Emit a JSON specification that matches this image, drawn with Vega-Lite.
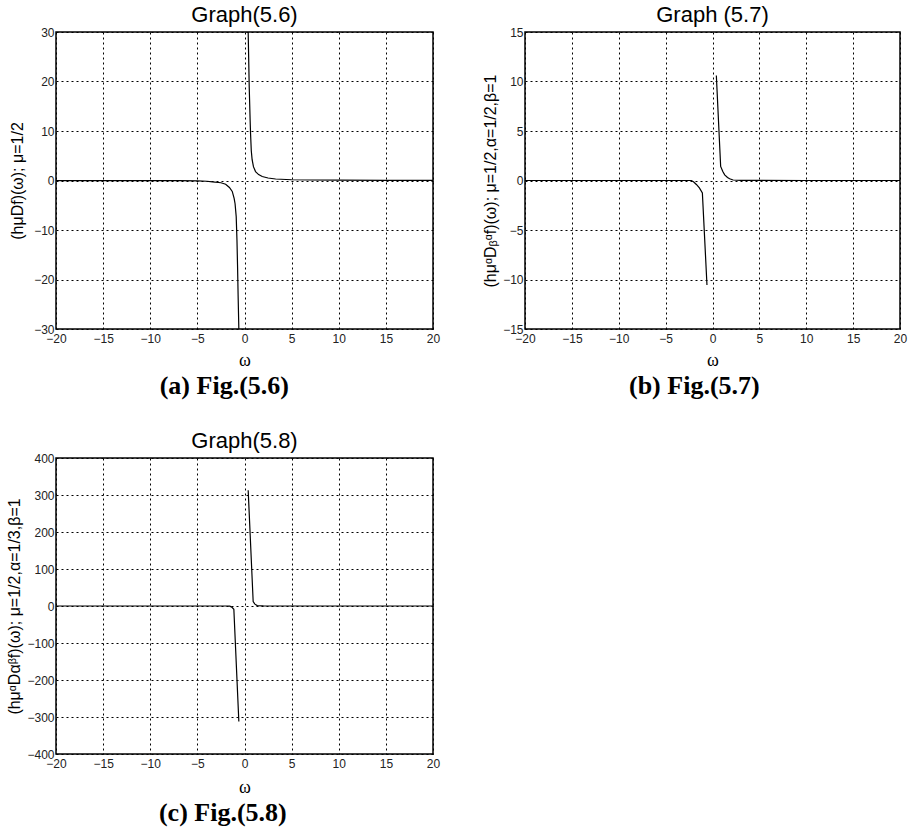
{
  "$schema": "https://vega.github.io/schema/vega-lite/v6.json",
  "background": "white",
  "padding": {"left": 5, "top": 3, "right": 5, "bottom": 5},
  "config": {
    "font": "Liberation Sans",
    "view": {"stroke": "black", "strokeWidth": 1.5},
    "axis": {
      "domain": false,
      "ticks": false,
      "grid": true,
      "gridColor": "black",
      "gridDash": [2, 3],
      "gridWidth": 1,
      "gridOpacity": 1,
      "labelFont": "Liberation Sans",
      "labelFontSize": 12,
      "labelColor": "#222",
      "labelFlush": false,
      "labelOverlap": false,
      "labelPadding": 2,
      "titleFont": "Liberation Sans",
      "titleFontSize": 16,
      "titleFontWeight": "normal",
      "titleColor": "black"
    },
    "axisX": {"labelPadding": 4, "titleFont": "Liberation Serif", "titleFontSize": 18, "titlePadding": 7},
    "title": {"font": "Liberation Sans", "fontSize": 22, "fontWeight": "normal", "color": "black", "offset": -1}
  },
  "datasets": {
    "curves": [
      {"panel": "a", "branch": "neg", "w": -20, "v": -0.005},
      {"panel": "a", "branch": "neg", "w": -15, "v": -0.01},
      {"panel": "a", "branch": "neg", "w": -10, "v": -0.02},
      {"panel": "a", "branch": "neg", "w": -7, "v": -0.04},
      {"panel": "a", "branch": "neg", "w": -5, "v": -0.07},
      {"panel": "a", "branch": "neg", "w": -4, "v": -0.15},
      {"panel": "a", "branch": "neg", "w": -3.4, "v": -0.27},
      {"panel": "a", "branch": "neg", "w": -2.5, "v": -0.45},
      {"panel": "a", "branch": "neg", "w": -2, "v": -0.75},
      {"panel": "a", "branch": "neg", "w": -1.6, "v": -1.4},
      {"panel": "a", "branch": "neg", "w": -1.3, "v": -2.2},
      {"panel": "a", "branch": "neg", "w": -1.1, "v": -3.6},
      {"panel": "a", "branch": "neg", "w": -1.0, "v": -4.7},
      {"panel": "a", "branch": "neg", "w": -0.88, "v": -7.3},
      {"panel": "a", "branch": "neg", "w": -0.8, "v": -12},
      {"panel": "a", "branch": "neg", "w": -0.74, "v": -17},
      {"panel": "a", "branch": "neg", "w": -0.68, "v": -23},
      {"panel": "a", "branch": "neg", "w": -0.6, "v": -30},
      {"panel": "a", "branch": "pos", "w": 0.39, "v": 30},
      {"panel": "a", "branch": "pos", "w": 0.5, "v": 19},
      {"panel": "a", "branch": "pos", "w": 0.6, "v": 12},
      {"panel": "a", "branch": "pos", "w": 0.64, "v": 9.6},
      {"panel": "a", "branch": "pos", "w": 0.72, "v": 6},
      {"panel": "a", "branch": "pos", "w": 0.81, "v": 4.2},
      {"panel": "a", "branch": "pos", "w": 0.95, "v": 2.8},
      {"panel": "a", "branch": "pos", "w": 1.17, "v": 1.8},
      {"panel": "a", "branch": "pos", "w": 1.5, "v": 1.2},
      {"panel": "a", "branch": "pos", "w": 1.88, "v": 0.8},
      {"panel": "a", "branch": "pos", "w": 2.5, "v": 0.5},
      {"panel": "a", "branch": "pos", "w": 3.3, "v": 0.3},
      {"panel": "a", "branch": "pos", "w": 5, "v": 0.15},
      {"panel": "a", "branch": "pos", "w": 7, "v": 0.1},
      {"panel": "a", "branch": "pos", "w": 10, "v": 0.06},
      {"panel": "a", "branch": "pos", "w": 15, "v": 0.03},
      {"panel": "a", "branch": "pos", "w": 20, "v": 0.02},
      {"panel": "b", "branch": "neg", "w": -20, "v": 0},
      {"panel": "b", "branch": "neg", "w": -10, "v": 0},
      {"panel": "b", "branch": "neg", "w": -5, "v": 0},
      {"panel": "b", "branch": "neg", "w": -2.25, "v": 0},
      {"panel": "b", "branch": "neg", "w": -2.0, "v": -0.15},
      {"panel": "b", "branch": "neg", "w": -1.72, "v": -0.4},
      {"panel": "b", "branch": "neg", "w": -1.4, "v": -0.75},
      {"panel": "b", "branch": "neg", "w": -1.08, "v": -1.25},
      {"panel": "b", "branch": "neg", "w": -0.59, "v": -10.55},
      {"panel": "b", "branch": "pos", "w": 0.41, "v": 10.6},
      {"panel": "b", "branch": "pos", "w": 0.87, "v": 1.42},
      {"panel": "b", "branch": "pos", "w": 1.1, "v": 0.9},
      {"panel": "b", "branch": "pos", "w": 1.3, "v": 0.57},
      {"panel": "b", "branch": "pos", "w": 1.6, "v": 0.3},
      {"panel": "b", "branch": "pos", "w": 1.83, "v": 0.17},
      {"panel": "b", "branch": "pos", "w": 2.2, "v": 0.05},
      {"panel": "b", "branch": "pos", "w": 3, "v": 0.02},
      {"panel": "b", "branch": "pos", "w": 5, "v": 0.01},
      {"panel": "b", "branch": "pos", "w": 10, "v": 0},
      {"panel": "b", "branch": "pos", "w": 20, "v": 0},
      {"panel": "c", "branch": "neg", "w": -20, "v": 0},
      {"panel": "c", "branch": "neg", "w": -10, "v": 0},
      {"panel": "c", "branch": "neg", "w": -5, "v": 0},
      {"panel": "c", "branch": "neg", "w": -2, "v": 0},
      {"panel": "c", "branch": "neg", "w": -1.56, "v": -0.5},
      {"panel": "c", "branch": "neg", "w": -1.35, "v": -3},
      {"panel": "c", "branch": "neg", "w": -1.13, "v": -9},
      {"panel": "c", "branch": "neg", "w": -0.6, "v": -312},
      {"panel": "c", "branch": "pos", "w": 0.39, "v": 313},
      {"panel": "c", "branch": "pos", "w": 0.92, "v": 11.7},
      {"panel": "c", "branch": "pos", "w": 1.1, "v": 5},
      {"panel": "c", "branch": "pos", "w": 1.35, "v": 1},
      {"panel": "c", "branch": "pos", "w": 2, "v": 0.2},
      {"panel": "c", "branch": "pos", "w": 5, "v": 0.05},
      {"panel": "c", "branch": "pos", "w": 20, "v": 0}
    ]
  },
  "spacing": 30,
  "vconcat": [
    {
      "spacing": 40,
      "hconcat": [
        {
          "title": {"text": "(a) Fig.(5.6)", "orient": "bottom", "anchor": "middle", "font": "Liberation Serif", "fontSize": 26, "fontWeight": "bold", "offset": 3},
          "vconcat": [
            {
              "width": 377,
              "height": 297,
              "title": {"text": "Graph(5.6)"},
              "data": {"name": "curves"},
              "transform": [{"filter": "datum.panel == 'a'"}],
              "mark": {"type": "line", "color": "black", "strokeWidth": 1.2, "clip": true},
              "encoding": {
                "x": {"field": "w", "type": "quantitative", "scale": {"domain": [-20, 20], "nice": false},
                      "axis": {"values": [-20, -15, -10, -5, 0, 5, 10, 15, 20], "title": "ω"}},
                "y": {"field": "v", "type": "quantitative", "scale": {"domain": [-30, 30], "nice": false},
                      "axis": {"values": [-30, -20, -10, 0, 10, 20, 30], "title": "(hμDf)(ω); μ=1/2", "minExtent": 24, "maxExtent": 24, "titlePadding": 7}},
                "detail": {"field": "branch"}
              }
            }
          ]
        },
        {
          "title": {"text": "(b) Fig.(5.7)", "orient": "bottom", "anchor": "middle", "font": "Liberation Serif", "fontSize": 26, "fontWeight": "bold", "offset": 3},
          "vconcat": [
            {
              "width": 375,
              "height": 297,
              "title": {"text": "Graph (5.7)"},
              "data": {"name": "curves"},
              "transform": [{"filter": "datum.panel == 'b'"}],
              "mark": {"type": "line", "color": "black", "strokeWidth": 1.2, "clip": true},
              "encoding": {
                "x": {"field": "w", "type": "quantitative", "scale": {"domain": [-20, 20], "nice": false},
                      "axis": {"values": [-20, -15, -10, -5, 0, 5, 10, 15, 20], "title": "ω"}},
                "y": {"field": "v", "type": "quantitative", "scale": {"domain": [-15, 15], "nice": false},
                      "axis": {"values": [-15, -10, -5, 0, 5, 10, 15], "title": "(hμᵅDᵦᵅf)(ω); μ=1/2,α=1/2,β=1", "minExtent": 22, "maxExtent": 22, "titlePadding": 5}},
                "detail": {"field": "branch"}
              }
            }
          ]
        }
      ]
    },
    {
      "title": {"text": "(c) Fig.(5.8)", "orient": "bottom", "anchor": "middle", "font": "Liberation Serif", "fontSize": 26, "fontWeight": "bold", "offset": 3},
      "vconcat": [
        {
          "width": 377,
          "height": 296,
          "title": {"text": "Graph(5.8)"},
          "data": {"name": "curves"},
          "transform": [{"filter": "datum.panel == 'c'"}],
          "mark": {"type": "line", "color": "black", "strokeWidth": 1.2, "clip": true},
          "encoding": {
            "x": {"field": "w", "type": "quantitative", "scale": {"domain": [-20, 20], "nice": false},
                  "axis": {"values": [-20, -15, -10, -5, 0, 5, 10, 15, 20], "title": "ω", "titlePadding": 9}},
            "y": {"field": "v", "type": "quantitative", "scale": {"domain": [-400, 400], "nice": false},
                  "axis": {"values": [-400, -300, -200, -100, 0, 100, 200, 300, 400], "title": "(hμᵅDαᵝf)(ω); μ=1/2,α=1/3,β=1", "minExtent": 28, "maxExtent": 28, "titlePadding": 6}},
            "detail": {"field": "branch"}
          }
        }
      ]
    }
  ]
}
